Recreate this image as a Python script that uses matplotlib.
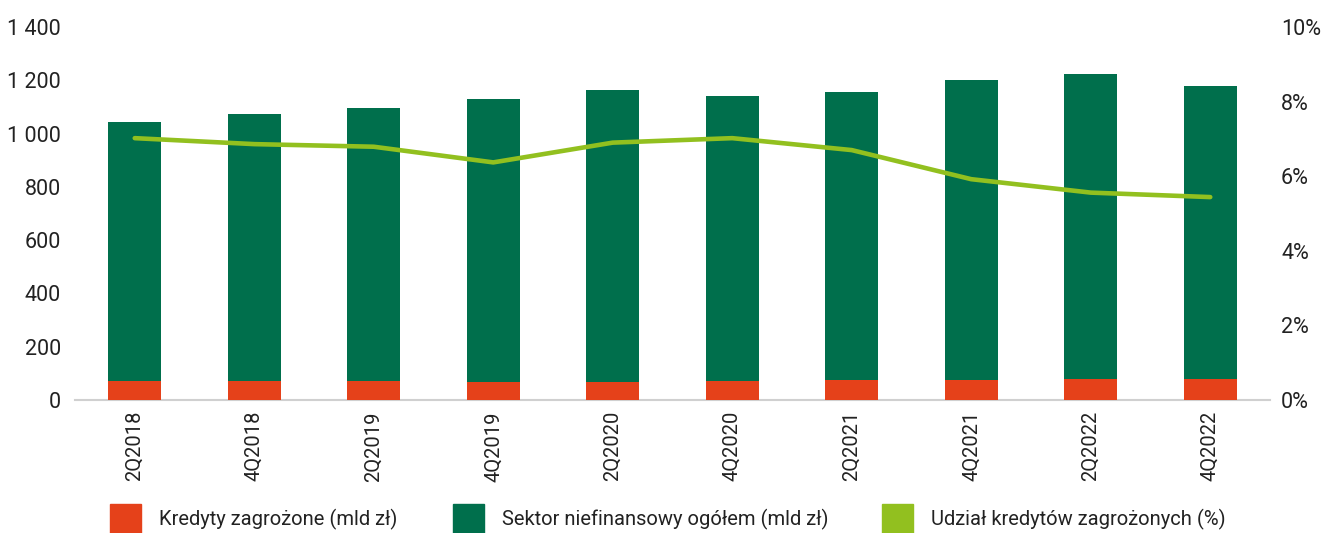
import matplotlib.pyplot as plt
from matplotlib.patches import Rectangle
from matplotlib.ticker import FuncFormatter

# Dane
kwartaly = ['2Q2018', '4Q2018', '2Q2019', '4Q2019', '2Q2020',
            '4Q2020', '2Q2021', '4Q2021', '2Q2022', '4Q2022']
sektor = [1043, 1073, 1096, 1130, 1163, 1141, 1156, 1201, 1223, 1178]
zagrozone = [71, 71, 71, 68, 68, 71, 76, 76, 79, 79]
udzial = [7.02, 6.86, 6.79, 6.37, 6.90, 7.02, 6.70, 5.92, 5.56, 5.44]
etykiety = ['Kredyty zagrożone (mld zł)', 'Sektor niefinansowy ogółem (mld zł)',
            'Udział kredytów zagrożonych (%)']

RED = '#E5411A'
DGREEN = '#006F4C'
LIME = '#92C01F'
TXT = '#222222'

plt.rcParams['font.family'] = ['Roboto', 'DejaVu Sans']

W, H = 1324, 533
fig = plt.figure(figsize=(W / 100, H / 100), dpi=100)
ax = fig.add_axes([75 / W, 1 - 400 / H, 1195 / W, 373 / H])
x = range(len(kwartaly))

ax.bar(x, sektor, width=0.44, color=DGREEN, zorder=2)
ax.bar(x, zagrozone, width=0.44, color=RED, zorder=3)

ax.set_xlim(-0.5, len(kwartaly) - 0.5)
ax.set_ylim(0, 1400)
ax.set_yticks(range(0, 1401, 200))
ax.yaxis.set_major_formatter(FuncFormatter(lambda v, p: f'{int(v):,}'.replace(',', ' ')))
ax.set_xticks(list(x))
ax.set_xticklabels(kwartaly, rotation=90, fontsize=14.5, color=TXT)
ax.tick_params(axis='y', labelsize=15.5, colors=TXT, length=0, pad=10)
ax.tick_params(axis='x', length=0, pad=8)
for s in ['top', 'right', 'left']:
    ax.spines[s].set_visible(False)
ax.spines['bottom'].set_color('#D0D0D0')
ax.spines['bottom'].set_linewidth(1.5)

ax2 = ax.twinx()
ax2.plot(x, udzial, color=LIME, linewidth=3.3, solid_capstyle='round', zorder=4)
ax2.set_ylim(0, 10)
ax2.set_yticks(range(0, 11, 2))
ax2.yaxis.set_major_formatter(FuncFormatter(lambda v, p: f'{int(v)}%'))
ax2.tick_params(axis='y', labelsize=15.5, colors=TXT, length=0, pad=8)
for s in ax2.spines.values():
    s.set_visible(False)

# Legenda rysowana ręcznie, żeby trafić w pozycje z oryginału
kolory = [RED, DGREEN, LIME]
pozycje = [110, 453, 882]
for kol, px, txt in zip(kolory, pozycje, etykiety):
    fig.patches.append(Rectangle((px / W, 0), 31 / W, 29 / H, color=kol,
                                 transform=fig.transFigure, figure=fig))
    fig.text((px + 49) / W, 1 - 519 / H, txt, fontsize=14.5, color=TXT,
             ha='left', va='center')

fig.savefig('out.png', dpi=100)
